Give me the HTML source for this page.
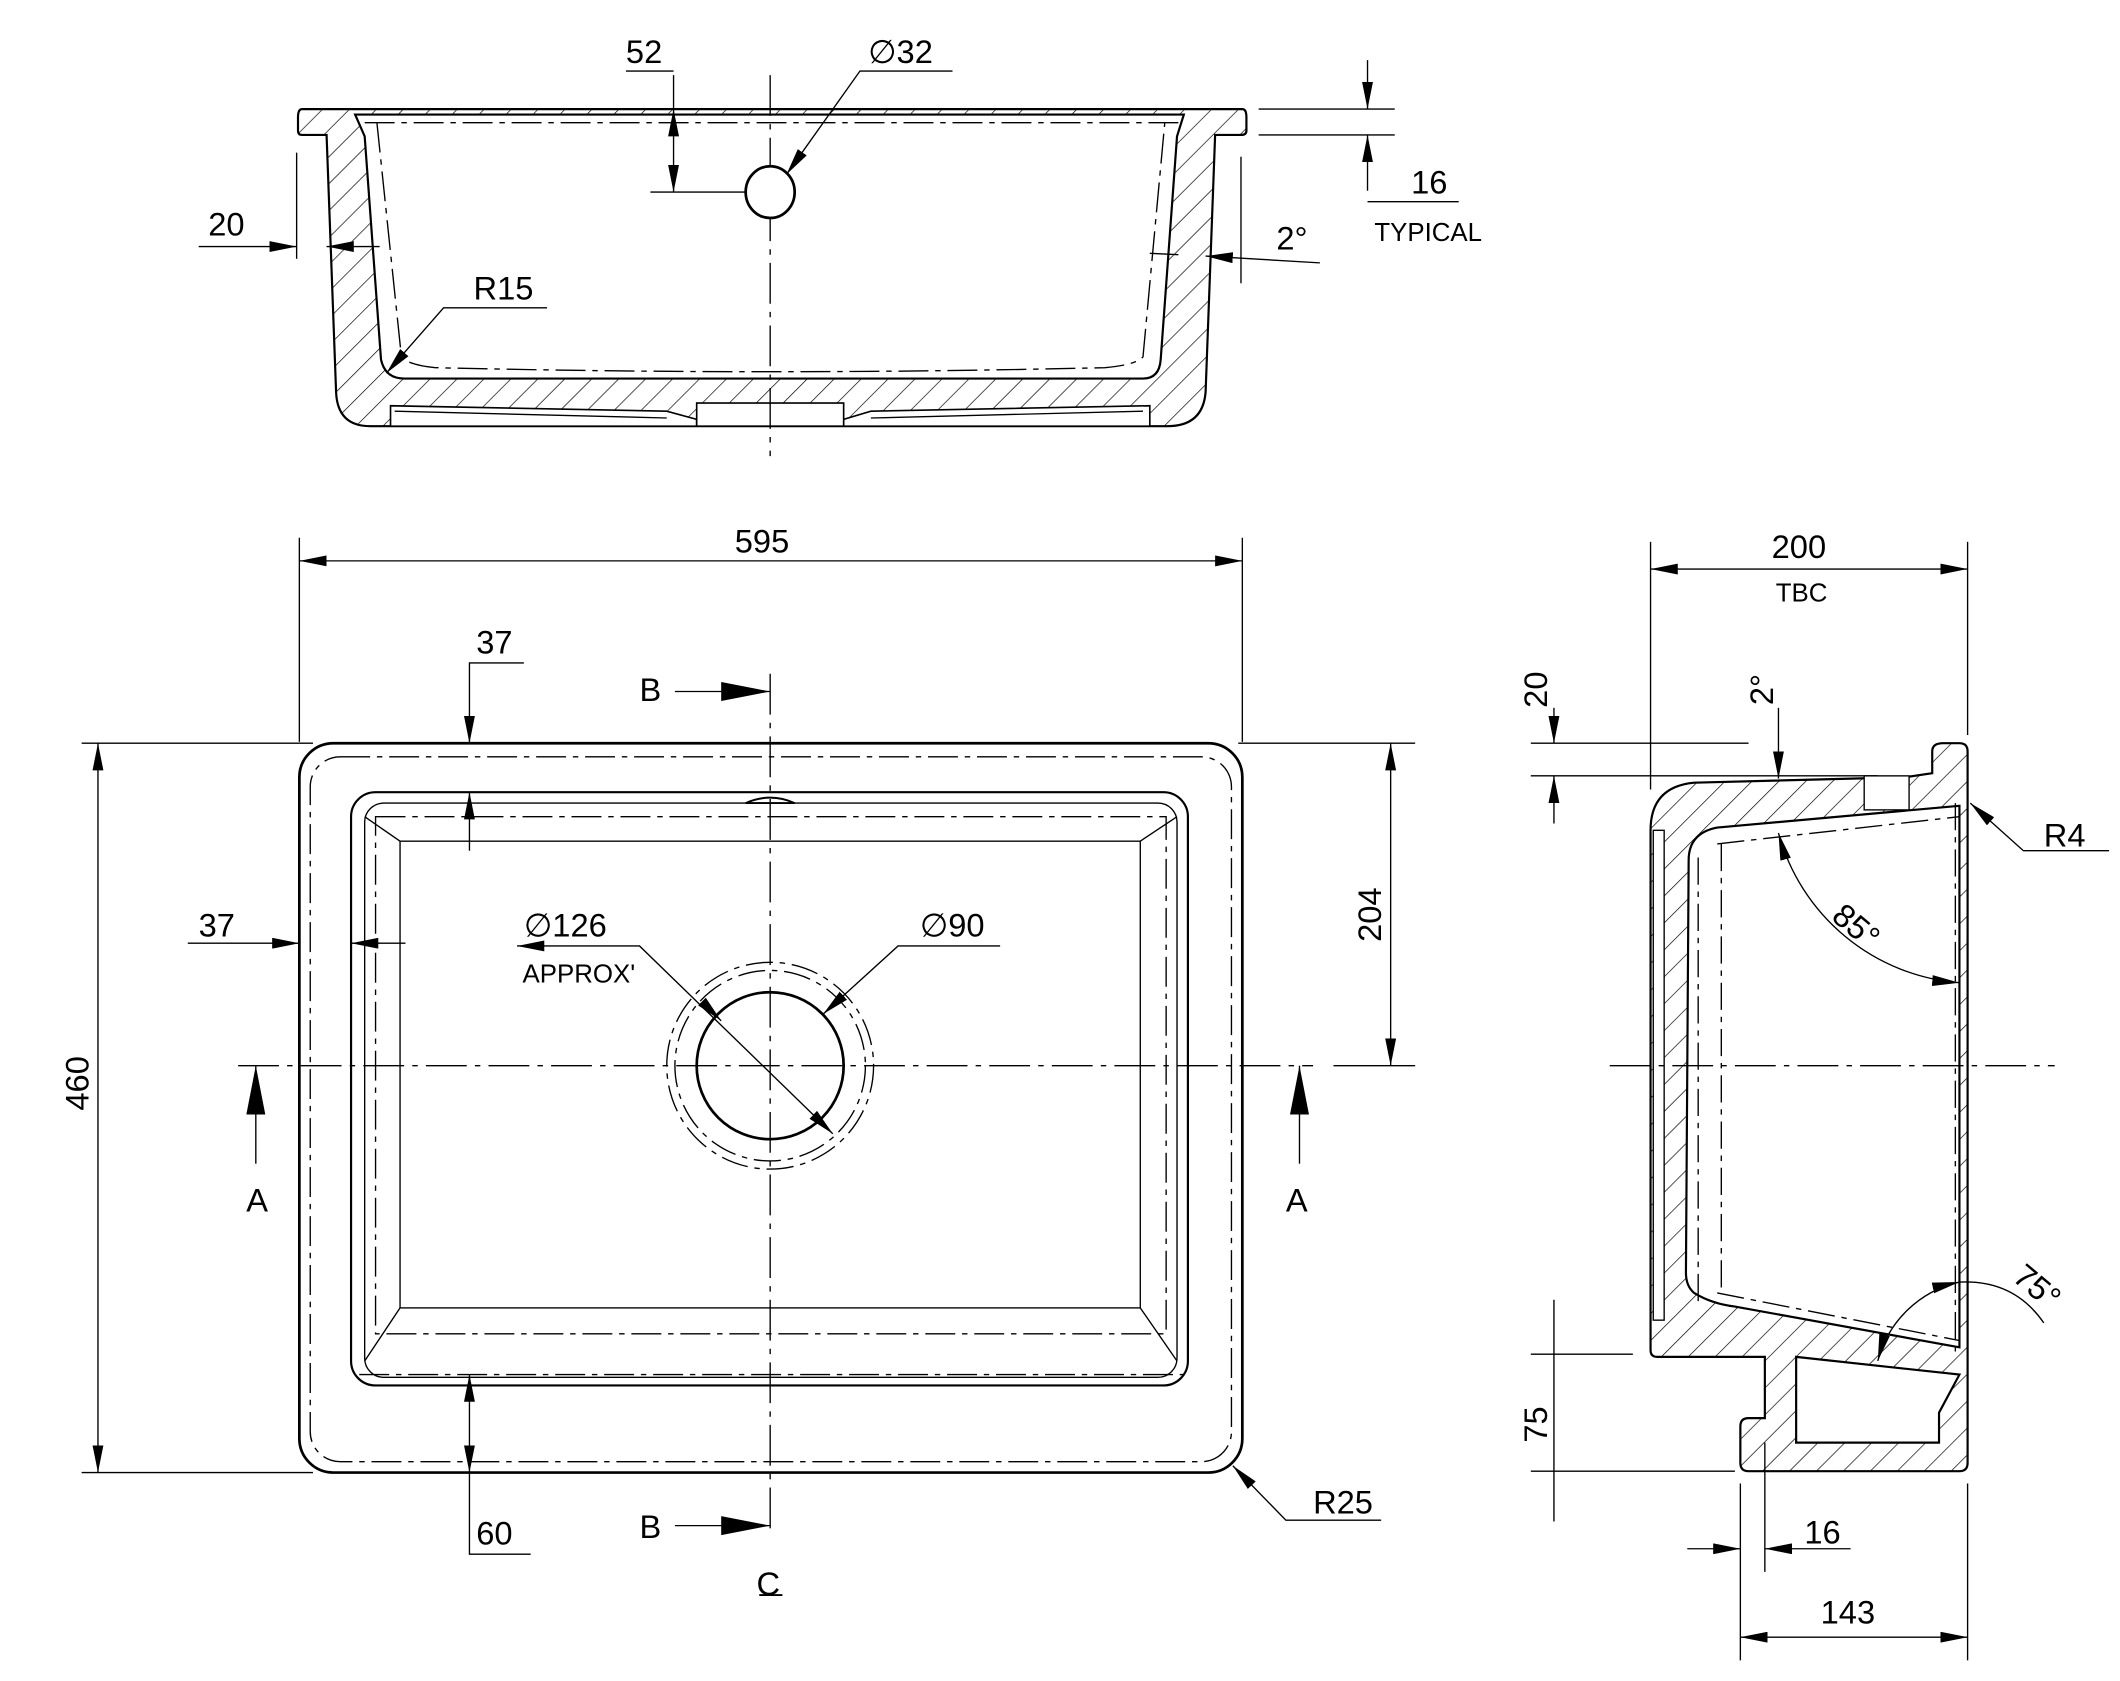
<!DOCTYPE html>
<html><head><meta charset="utf-8"><style>
html,body{margin:0;padding:0;background:#fff;}
svg{display:block;}
text{font-family:"Liberation Sans","DejaVu Sans",sans-serif;fill:#000;}
</style></head><body>
<svg width="2120" height="1681" viewBox="0 0 1558 1235" xmlns="http://www.w3.org/2000/svg">
<defs>
<pattern id="h" patternUnits="userSpaceOnUse" width="14" height="14" patternTransform="rotate(45)">
<line x1="0" y1="0" x2="0" y2="14" stroke="#000" stroke-width="1"/>
</pattern>
<marker id="a" viewBox="0 0 20 8" refX="20" refY="4" markerWidth="20" markerHeight="8" markerUnits="userSpaceOnUse" orient="auto-start-reverse">
<path d="M0,0 L20,4 L0,8 z" fill="#000"/>
</marker>
<marker id="b" viewBox="0 0 36 14" refX="36" refY="7" markerWidth="36" markerHeight="14" markerUnits="userSpaceOnUse" orient="auto">
<path d="M0,0 L36,7 L0,14 z" fill="#000"/>
</marker>
</defs>
<g fill="none" stroke="#000" stroke-width="1.6">

<!-- ===== TOP SECTION VIEW ===== -->
<path d="M222,80 L913,80 Q916,80 916,86 L916,96 Q916,99 912,99 L893,99 L886,288 Q884,313 858,313 L272,313 Q248,313 247,288 L240,99 L222,99 Q219,99 219,96 L219,86 Q219,80 222,80 Z" fill="url(#h)"/>
<path d="M261,84 L268,100 L280,264 Q283,278 297,278 L840,278 Q852,278 853,264 L865,100 L870,84 Z" fill="#fff"/>
<path d="M287,298 L490,302 L512,308 L512,313 L287,313 Z M845,298 L640,302 L620,308 L620,313 L845,313 Z" fill="#fff" stroke-width="1.2"/>
<rect x="512" y="296" width="108" height="17" fill="#fff" stroke-width="1.2"/>
<line x1="290" y1="302" x2="490" y2="307" stroke-width="1"/><line x1="640" y1="307" x2="840" y2="302" stroke-width="1"/>
<path d="M277,90 L295,262 Q300,268 320,270 Q566,276 812,270 Q835,268 840,262 L856,90" stroke-dasharray="22,5,4,5" stroke-width="1"/>
<line x1="268" y1="90" x2="866" y2="90" stroke-dasharray="22,5,4,5" stroke-width="1"/>
<line x1="566" y1="55" x2="566" y2="335" stroke-dasharray="30,6,4,6" stroke-width="1"/>
<ellipse cx="566" cy="141" rx="18" ry="19" stroke-width="2" fill="#fff"/>
<line x1="495" y1="55" x2="495" y2="80" stroke-width="1"/>
<line x1="495" y1="80" x2="495" y2="141" stroke-width="1" marker-start="url(#a)" marker-end="url(#a)"/>
<line x1="478" y1="141" x2="548" y2="141" stroke-width="1"/>
<polyline points="460,52 495,52" stroke-width="1"/>
<polyline points="700,52 632,52 578,128" stroke-width="1" marker-end="url(#a)"/>
<line x1="218" y1="112" x2="218" y2="190" stroke-width="1"/>
<line x1="146" y1="181" x2="218" y2="181" stroke-width="1" marker-end="url(#a)"/>
<line x1="279" y1="181" x2="240" y2="181" stroke-width="1" marker-end="url(#a)"/>
<line x1="912" y1="115" x2="912" y2="208" stroke-width="1"/>
<line x1="970" y1="193" x2="886" y2="188" stroke-width="1" marker-end="url(#a)"/>
<line x1="845" y1="186" x2="866" y2="187" stroke-width="1"/>
<line x1="925" y1="80" x2="1025" y2="80" stroke-width="1"/>
<line x1="925" y1="99" x2="1025" y2="99" stroke-width="1"/>
<line x1="1005" y1="44" x2="1005" y2="80" stroke-width="1" marker-end="url(#a)"/>
<line x1="1005" y1="140" x2="1005" y2="99" stroke-width="1" marker-end="url(#a)"/>
<line x1="1005" y1="148" x2="1072" y2="148" stroke-width="1"/>
<polyline points="402,226 326,226 284,274" stroke-width="1" marker-end="url(#a)"/>

<!-- ===== PLAN VIEW ===== -->
<rect x="220" y="546" width="693" height="536" rx="25" stroke-width="2"/>
<rect x="258" y="582" width="615" height="436" rx="18"/>
<rect x="268" y="590" width="597" height="422" rx="14" stroke-width="1"/>
<rect x="294" y="618" width="544" height="343" stroke-width="1"/>
<line x1="268" y1="600" x2="294" y2="618" stroke-width="1"/><line x1="865" y1="600" x2="838" y2="618" stroke-width="1"/>
<line x1="268" y1="1000" x2="294" y2="961" stroke-width="1"/><line x1="865" y1="1000" x2="838" y2="961" stroke-width="1"/>
<rect x="228" y="556" width="677" height="518" rx="22" stroke-dasharray="22,5,4,5" stroke-width="1"/>
<rect x="276" y="600" width="581" height="380" stroke-dasharray="22,5,4,5" stroke-width="1"/>
<line x1="264" y1="1010" x2="870" y2="1010" stroke-dasharray="22,5,4,5" stroke-width="1"/>
<circle cx="566" cy="783" r="54" stroke-width="2"/>
<circle cx="566" cy="783" r="70" stroke-dasharray="20,5,4,5" stroke-width="1"/>
<circle cx="566" cy="783" r="76" stroke-dasharray="20,5,4,5" stroke-width="1"/>
<line x1="566" y1="495" x2="566" y2="1125" stroke-dasharray="30,6,4,6" stroke-width="1"/>
<line x1="175" y1="783" x2="965" y2="783" stroke-dasharray="30,6,4,6" stroke-width="1"/>
<path d="M548,590 Q566,582 584,590 M548,590 L584,590" stroke-width="1.4"/>
<line x1="220" y1="395" x2="220" y2="545" stroke-width="1"/>
<line x1="913" y1="395" x2="913" y2="545" stroke-width="1"/>
<line x1="220" y1="412" x2="913" y2="412" stroke-width="1" marker-start="url(#a)" marker-end="url(#a)"/>
<line x1="60" y1="546" x2="230" y2="546" stroke-width="1"/>
<line x1="60" y1="1082" x2="230" y2="1082" stroke-width="1"/>
<line x1="72" y1="546" x2="72" y2="1082" stroke-width="1" marker-start="url(#a)" marker-end="url(#a)"/>
<line x1="910" y1="546" x2="1040" y2="546" stroke-width="1"/>
<line x1="980" y1="783" x2="1040" y2="783" stroke-width="1"/>
<line x1="1022" y1="546" x2="1022" y2="783" stroke-width="1" marker-start="url(#a)" marker-end="url(#a)"/>
<polyline points="385,487 345,487 345,522" stroke-width="1"/>
<line x1="345" y1="522" x2="345" y2="546" stroke-width="1" marker-end="url(#a)"/>
<line x1="345" y1="625" x2="345" y2="582" stroke-width="1" marker-end="url(#a)"/>
<line x1="138" y1="693" x2="220" y2="693" stroke-width="1" marker-end="url(#a)"/>
<line x1="298" y1="693" x2="258" y2="693" stroke-width="1" marker-end="url(#a)"/>
<line x1="345" y1="1010" x2="345" y2="1082" stroke-width="1" marker-start="url(#a)" marker-end="url(#a)"/>
<polyline points="345,1082 345,1142 390,1142" stroke-width="1"/>
<polyline points="380,695 470,695 612,833" stroke-width="1" marker-start="url(#a)" marker-end="url(#a)"/>
<line x1="520" y1="740" x2="530" y2="750" stroke-width="1" marker-end="url(#a)"/>
<polyline points="735,695 660,695 605,745" stroke-width="1" marker-end="url(#a)"/>
<polyline points="1015,1117 945,1117 906,1077" stroke-width="1" marker-end="url(#a)"/>
<line x1="496" y1="508" x2="566" y2="508" stroke-width="1" marker-end="url(#b)"/>
<line x1="496" y1="1121" x2="566" y2="1121" stroke-width="1" marker-end="url(#b)"/>
<line x1="188" y1="855" x2="188" y2="783" stroke-width="1" marker-end="url(#b)"/>
<line x1="955" y1="855" x2="955" y2="783" stroke-width="1" marker-end="url(#b)"/>

<!-- ===== SIDE SECTION VIEW ===== -->
<path d="M1213,610 Q1213,578 1245,575 L1400,571 L1420,568 L1420,552 Q1420,546 1428,546 L1440,546 Q1446,546 1446,552 L1446,1075 Q1446,1081 1440,1081 L1285,1081 Q1279,1081 1279,1075 L1279,1048 Q1279,1042 1285,1042 L1297,1042 L1297,997 L1218,997 Q1213,997 1213,992 Z" fill="url(#h)"/>
<path d="M1241,632 Q1241,612 1262,608 L1440,592 L1440,990 L1275,960 Q1258,958 1245,950 Q1239,945 1239,935 Z" fill="#fff"/>
<path d="M1320,997 L1440,1010 L1425,1038 L1425,1060 L1320,1060 Z" fill="#fff"/>
<rect x="1215" y="610" width="8" height="360" fill="#fff" stroke-width="1"/>
<rect x="1370" y="570" width="33" height="25" fill="#fff" stroke-width="1"/>
<path d="M1262,620 L1440,600" stroke-dasharray="20,5,4,5" stroke-width="1"/>
<path d="M1262,950 L1440,985" stroke-dasharray="20,5,4,5" stroke-width="1"/>
<line x1="1265" y1="620" x2="1265" y2="950" stroke-dasharray="20,5,4,5" stroke-width="1"/>
<line x1="1248" y1="630" x2="1248" y2="960" stroke-dasharray="20,5,4,5" stroke-width="1"/>
<line x1="1437" y1="590" x2="1437" y2="995" stroke-dasharray="20,5,4,5" stroke-width="1"/>
<line x1="1183" y1="783" x2="1510" y2="783" stroke-dasharray="30,6,4,6" stroke-width="1"/>
<line x1="1213" y1="398" x2="1213" y2="580" stroke-width="1"/>
<line x1="1446" y1="398" x2="1446" y2="540" stroke-width="1"/>
<line x1="1213" y1="418" x2="1446" y2="418" stroke-width="1" marker-start="url(#a)" marker-end="url(#a)"/>
<line x1="1125" y1="546" x2="1285" y2="546" stroke-width="1"/>
<line x1="1125" y1="570" x2="1380" y2="570" stroke-width="1"/>
<line x1="1142" y1="520" x2="1142" y2="546" stroke-width="1" marker-end="url(#a)"/>
<line x1="1142" y1="605" x2="1142" y2="570" stroke-width="1" marker-end="url(#a)"/>
<line x1="1307" y1="520" x2="1307" y2="572" stroke-width="1" marker-end="url(#a)"/>
<path d="M1307,612 A150,150 0 0 0 1440,722" stroke-width="1" marker-start="url(#a)" marker-end="url(#a)"/>
<path d="M1380,1000 A80,80 0 0 1 1440,942" stroke-width="1" marker-start="url(#a)" marker-end="url(#a)"/>
<path d="M1440,942 Q1480,940 1502,972" stroke-width="1"/>
<polyline points="1550,625 1487,625 1448,590" stroke-width="1" marker-end="url(#a)"/>
<line x1="1125" y1="995" x2="1200" y2="995" stroke-width="1"/>
<line x1="1125" y1="1081" x2="1275" y2="1081" stroke-width="1"/>
<line x1="1142" y1="955" x2="1142" y2="1118" stroke-width="1"/>
<line x1="1279" y1="1090" x2="1279" y2="1220" stroke-width="1"/>
<line x1="1446" y1="1090" x2="1446" y2="1220" stroke-width="1"/>
<line x1="1297" y1="1060" x2="1297" y2="1155" stroke-width="1"/>
<line x1="1279" y1="1203" x2="1446" y2="1203" stroke-width="1" marker-start="url(#a)" marker-end="url(#a)"/>
<line x1="1240" y1="1138" x2="1279" y2="1138" stroke-width="1" marker-end="url(#a)"/>
<line x1="1360" y1="1138" x2="1297" y2="1138" stroke-width="1" marker-end="url(#a)"/>
</g>

<g font-size="24">
<text x="460" y="46">52</text>
<text x="638" y="46">∅32</text>
<text x="153" y="173">20</text>
<text x="1037" y="142">16</text>
<text x="1010" y="177" font-size="19">TYPICAL</text>
<text x="938" y="183">2°</text>
<text x="348" y="220">R15</text>
<text x="540" y="406">595</text>
<text x="350" y="480">37</text>
<text x="470" y="515">B</text>
<text x="146" y="688">37</text>
<text x="385" y="688">∅126</text>
<text x="384" y="722" font-size="19">APPROX'</text>
<text x="676" y="688">∅90</text>
<text x="181" y="890">A</text>
<text x="945" y="890">A</text>
<text x="350" y="1135">60</text>
<text x="470" y="1130">B</text>
<text x="556" y="1172">C</text>
<text x="965" y="1112">R25</text>
<text x="1302" y="410">200</text>
<text x="1305" y="442" font-size="19">TBC</text>
<text x="1502" y="622">R4</text>
<text x="1338" y="1193">143</text>
<text x="1326" y="1134">16</text>
<text transform="translate(65,816) rotate(-90)">460</text>
<text transform="translate(1015,692) rotate(-90)">204</text>
<text transform="translate(1137,520) rotate(-90)">20</text>
<text transform="translate(1303,518) rotate(-90)">2°</text>
<text transform="translate(1137,1060) rotate(-90)">75</text>
<text transform="translate(1345,675) rotate(40)">85°</text>
<text transform="translate(1478,940) rotate(40)">75°</text>
</g>
<line x1="558" y1="1172" x2="575" y2="1172" stroke="#000" stroke-width="1.4"/>
</svg>
</body></html>
